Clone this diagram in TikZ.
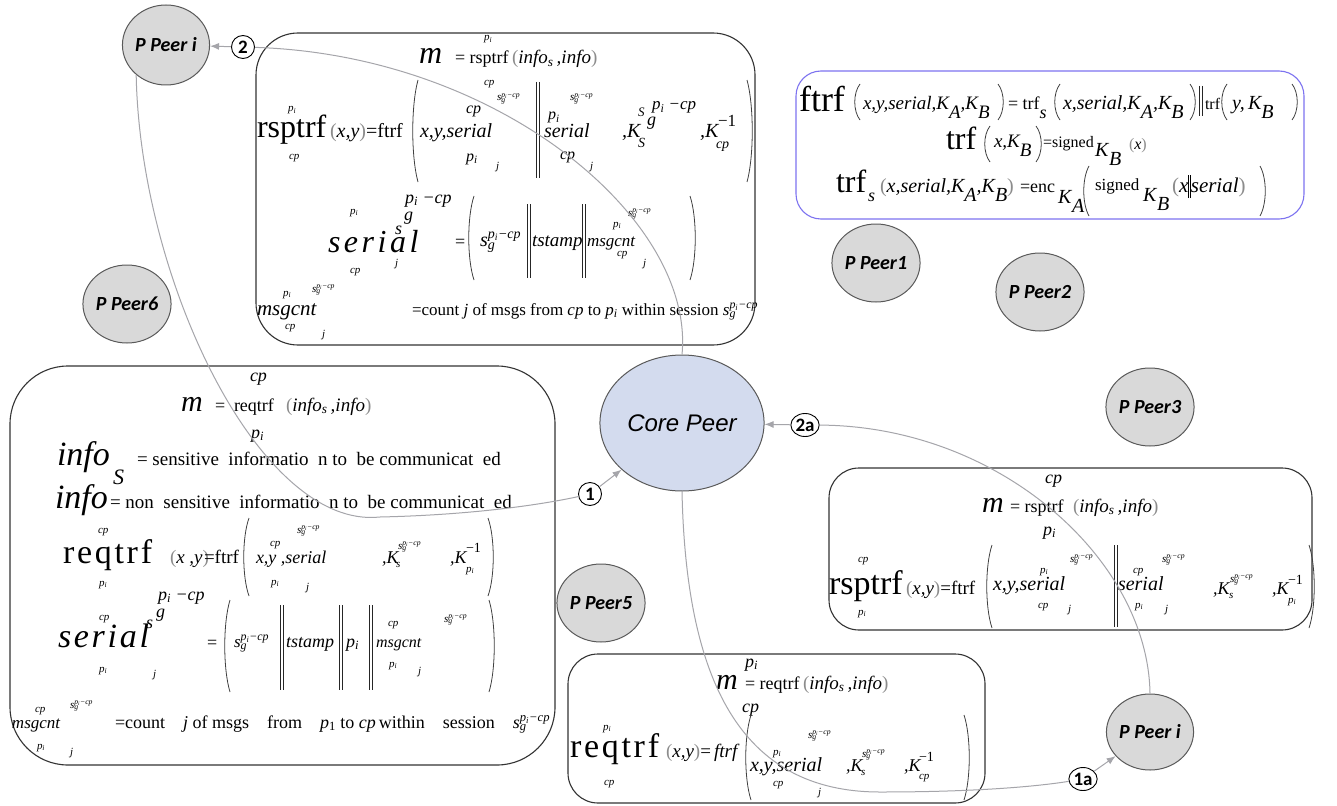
\documentclass[tikz,border=0pt]{standalone}
\usepackage{fontspec}
\usetikzlibrary{shapes.geometric,arrows.meta}
\setmainfont{Liberation Serif}
\newfontfamily\peerfont{Carlito}
\newfontfamily\arialfont{Liberation Sans}
\newcounter{fr}
\newcommand\T[4][]{\stepcounter{fr}\node[tx,font=\fontsize{#3}{#3}\selectfont,#1] (fr\arabic{fr}) at (#2) {#4};}
\newcommand\PI{\textit{p}\textsubscript{\textit{i}}}
\newcommand\sbsp[3]{#1\rlap{\textsubscript{#2}}\textsuperscript{#3}}
\newcommand\SG{\sbsp{\textit{s}}{\textit{g}}{\PI\textit{−cp}}}
\newcommand\lo[1]{\raisebox{-0.45em}{#1}}
\newcommand\LP{\textcolor{black!45}{(}}
\newcommand\RP{\textcolor{black!45}{)}}
\newcommand\dbar{\rule[-0.25em]{0.6pt}{1.1em}\kern1.3pt\rule[-0.25em]{0.6pt}{1.1em}}
\newcommand\lpar[3]{\draw[paren] ({#1+4},#2) .. controls ({#1-3},{#2+0.25*(#3-#2)}) and ({#1-3},{#2+0.75*(#3-#2)}) .. ({#1+4},#3);}
\newcommand\rpar[3]{\draw[paren] ({#1-4},#2) .. controls ({#1+3},{#2+0.25*(#3-#2)}) and ({#1+3},{#2+0.75*(#3-#2)}) .. ({#1-4},#3);}
\newcommand\bars[3]{\draw[bar] (#1,#2) -- (#1,#3); \draw[bar] ({#1+3},#2) -- ({#1+3},#3);}
\definecolor{peerfill}{RGB}{217,217,217}
\definecolor{corefill}{RGB}{211,219,238}
\definecolor{connc}{RGB}{165,165,170}
\definecolor{bluebox}{RGB}{125,115,240}
\begin{document}
\begin{tikzpicture}[x=1pt,y=-1pt,
  tx/.style={anchor=base west,inner sep=0pt,outer sep=0pt},
  paren/.style={line width=0.8pt,black!75},
  bar/.style={line width=0.8pt,black!85},
  box/.style={draw=black!80,line width=1.1pt},
  peer/.style={ellipse,draw=black!65,fill=peerfill,line width=1pt,inner sep=0pt,
    minimum width=86pt,minimum height=78pt,font=\peerfont\bfseries\itshape\fontsize{20}{20}\selectfont},
  lab/.style={circle,draw=black,fill=white,line width=0.9pt,inner sep=0.5pt,minimum size=23pt,
    font=\peerfont\bfseries\fontsize{19}{19}\selectfont},
  laba/.style={lab,ellipse,minimum width=28pt,minimum height=23pt},
  conn/.style={draw=connc,line width=1pt},
  arr/.style={conn,-{Latex[length=9pt,width=7pt]},connc}]
\fill[white] (0,0) rectangle (1337,805);
\useasboundingbox (0,0) rectangle (1337,805);
% boxes
\draw[box,rounded corners=42pt] (256,33) rectangle (755,345);
\draw[draw=bluebox,line width=1.1pt,rounded corners=25pt] (796,71) rectangle (1304,219);
\draw[box,rounded corners=58pt] (10,366) rectangle (555,765);
\draw[box,rounded corners=30pt] (829,468) rectangle (1312,630);
\draw[box,rounded corners=30pt] (568,654) rectangle (985,803);
% ---------- top box
\T{484,41}{11}{\PI}
\T{419,64}{32}{\textit{m}}
\T{455,64}{18}{= rsptrf}
\T{512,64}{19}{\LP\textit{info}\textsubscript{\textit{s}}\,\textit{,info}\RP}
\T{484,86}{11}{\textit{cp}}
\T{288,112}{11}{\PI}
\T{257,138}{32}{rsptrf}
\T{289,160}{11}{\textit{cp}}
\T{330,138}{20}{\LP\textit{x,y}\RP=ftrf}
\lpar{414}{80}{182}
\T{466,114}{16}{\textit{cp}}
\T{497,101}{11}{\SG}
\T{420,138}{20}{\textit{x,y,serial}}
\T{466,161}{16}{\PI}
\T{496,170}{11}{\textit{j}}
\bars{536}{82}{178}
\T{548,120}{16}{\PI}
\T{570,101}{11}{\SG}
\T{544,138}{20}{\textit{serial}}
\T{560,160}{16}{\textit{cp}}
\T{590,170}{11}{\textit{j}}
\T{622,138}{20}{\textit{,K}}
\T{638,148}{14}{\textit{S}}
\T{638,117}{13}{\textit{S}}
\T{647,126}{18}{\textit{g}}
\T{652,110}{17}{\PI\textit{ −cp}}
\T{700,138}{20}{\textit{,K}}
\T{718,127}{17}{−1}
\T{716,149}{14}{\textit{cp}}
\rpar{751}{80}{182}
\T{350,214}{11}{\PI}
\T{328,252}{32}{\itshape\addfontfeatures{LetterSpace=11}serial}
\T{395,234}{18}{\textit{s}}
\T{404,220}{18}{\textit{g}}
\T{405,203}{18}{\PI\textit{ −cp}}
\T{350,273}{11}{\textit{cp}}
\T{395,266}{11}{\textit{j}}
\T{455,247}{18}{=}
\lpar{470}{196}{280}
\T{480,246}{20}{\SG}
\bars{527}{204}{278}
\T{532,246}{19}{\textit{tstamp}}
\bars{582}{204}{278}
\T{613,227}{11}{\PI}
\T{587,246}{17}{\textit{msgcnt}}
\T{628,216}{11}{\SG}
\T{617,256}{11}{\textit{cp}}
\T{643,266}{11}{\textit{j}}
\rpar{694}{196}{280}
\T{283,296}{11}{\PI}
\T{312,292}{11}{\SG}
\T{257,315}{21}{\textit{msgcnt}}
\T{285,329}{11}{\textit{cp}}
\T{322,337}{11}{\textit{j}}
\T{412,315}{17}{=count \textit{j} of msgs from \textit{cp} to \PI\ within session \SG}
% ---------- right top box
\T{799,112}{36}{ftrf}
\lpar{856}{84}{120}
\T{863,110}{19}{\textit{x,y,serial,K\lo{A},K\lo{B}}}
\rpar{1002}{84}{120}
\T{1008,110}{18}{= trf\lo{\textit{s}}}
\lpar{1056}{84}{120}
\T{1063,110}{20}{\textit{x,serial,K\lo{A},K\lo{B}}}
\rpar{1194}{84}{120}
\bars{1199}{86}{116}
\T{1205,110}{16}{trf}
\lpar{1223}{84}{120}
\T{1232,110}{20}{\textit{y,\,K\lo{B}}}
\rpar{1296}{84}{120}
\T{946,150}{32}{trf}
\lpar{986}{126}{162}
\T{994,148}{19}{\textit{x,K\lo{B}}}
\rpar{1040}{126}{162}
\T{1043,148}{16}{=signed}
\T{1095,157}{20}{\textit{K}\lo{\textit{B}}}
\T{1129,150}{16}{\LP\textit{x}\RP}
\T{836,193}{32}{trf}
\T{868,201}{18}{\textit{s}}
\T{880,193}{20}{\LP\textit{x,serial,K\lo{A},K\lo{B}}\RP}
\T{1020,193}{18}{=enc}
\T{1058,204}{20}{\textit{K}\lo{\textit{A}}}
\lpar{1085}{166}{216}
\T{1095,190}{17}{signed}
\T{1143,201}{20}{\textit{K}\lo{\textit{B}}}
\T{1172,193}{21}{\LP\textit{x}\dbar\textit{serial}\RP}
\rpar{1264}{166}{216}
% ---------- left box
\T{250,381}{18}{\textit{cp}}
\T{181,411}{30}{\textit{m}}
\T{215,411}{18}{=}
\T{234,411}{18}{reqtrf}
\T{286,411}{19}{\LP\textit{info}\textsubscript{\textit{s}}\,\textit{,info}\RP}
\T{251,438}{18}{\PI}
\T{57,465}{34}{\textit{info}}
\T{113,484}{22}{\textit{S}}
\T{137,465}{19}{= sensitive\enspace informatio\enspace n to\enspace be communicat\enspace ed}
\T{55,508}{34}{\textit{info}}
\T{110,508}{19}{= non\enspace sensitive\enspace informatio\enspace n to\enspace be communicat\enspace ed}
\T{98,533}{11}{\textit{cp}}
\T{63,563}{34}{\addfontfeatures{LetterSpace=8}reqtrf}
\T{99,586}{11}{\PI}
\T{170,563}{19}{\LP\textit{x ,y}\RP}
\T{204,563}{19}{=ftrf}
\lpar{245}{518}{596}
\T{270,546}{11}{\textit{cp}}
\T{297,533}{11}{\SG}
\T{256,563}{18}{\textit{x,y ,serial}}
\T{271,585}{11}{\PI}
\T{306,590}{11}{\textit{j}}
\T{382,563}{18}{\textit{,K}}
\T{396,567}{11}{\textit{s}}
\T{398,549}{11}{\SG}
\T{450,563}{18}{\textit{,K}}
\T{466,552}{14}{−1}
\T{466,572}{11}{\PI}
\rpar{492}{518}{596}
\T{99,620}{11}{\textit{cp}}
\T{58,647}{34}{\itshape\addfontfeatures{LetterSpace=8}serial}
\T{146,628}{18}{\textit{s}}
\T{156,617}{18}{\textit{g}}
\T{158,600}{18}{\PI\textit{ −cp}}
\T{99,672}{11}{\PI}
\T{153,677}{11}{\textit{j}}
\T{207,648}{18}{=}
\lpar{226}{600}{692}
\T{234,647}{17}{\SG}
\bars{280}{605}{690}
\T{286,647}{18}{\textit{tstamp}}
\bars{339}{605}{690}
\T{346,647}{18}{\PI}
\bars{369}{605}{690}
\T{388,626}{11}{\textit{cp}}
\T{376,647}{16}{\textit{msgcnt}}
\T{444,622}{11}{\SG}
\T{389,667}{11}{\PI}
\T{418,674}{11}{\textit{j}}
\rpar{493}{600}{692}
\T{35,712}{11}{\textit{cp}}
\T{70,708}{11}{\SG}
\T{12,728}{17}{\textit{msgcnt}}
\T{37,749}{11}{\PI}
\T{70,755}{11}{\textit{j}}
\T{115,728}{18}{=count\quad\textit{j} of msgs\quad from\quad \textit{p}\textsubscript{1} to \textit{cp}\,within\quad session\quad \SG}
% ---------- right box
\T{1045,483}{18}{\textit{cp}}
\T{982,512}{30}{\textit{m}}
\T{1010,512}{18}{= rsptrf}
\T{1073,512}{19}{\LP\textit{info}\textsubscript{\textit{s}}\,\textit{,info}\RP}
\T{1043,535}{18}{\PI}
\T{858,562}{11}{\textit{cp}}
\T{829,594}{34}{rsptrf}
\T{858,615}{11}{\PI}
\T{906,594}{19}{\LP\textit{x,y}\RP=ftrf}
\lpar{988}{545}{628}
\T{1040,573}{11}{\PI}
\T{1070,562}{11}{\SG}
\T{993,590}{20}{\textit{x,y,serial}}
\T{1038,608}{11}{\textit{cp}}
\T{1068,612}{11}{\textit{j}}
\bars{1114}{545}{627}
\T{1133,573}{11}{\textit{cp}}
\T{1162,562}{11}{\SG}
\T{1118,590}{20}{\textit{serial}}
\T{1135,608}{11}{\PI}
\T{1165,612}{11}{\textit{j}}
\T{1213,594}{18}{\textit{,K}}
\T{1229,598}{11}{\textit{s}}
\T{1230,582}{11}{\SG}
\T{1272,594}{18}{\textit{,K}}
\T{1288,584}{14}{−1}
\T{1288,603}{11}{\PI}
\rpar{1313}{545}{628}
% ---------- bottom box
\T{745,667}{18}{\PI}
\T{716,689}{30}{\textit{m}}
\T{745,689}{18}{= reqtrf}
\T{803,689}{19}{\LP\textit{info}\textsubscript{\textit{s}}\,\textit{,info}\RP}
\T{742,712}{18}{\textit{cp}}
\T{603,730}{11}{\PI}
\T{570,757}{34}{\addfontfeatures{LetterSpace=8}reqtrf}
\T{604,785}{11}{\textit{cp}}
\T{666,757}{19}{\LP\textit{x,y}\RP=\,\textit{ftrf}}
\lpar{747}{715}{800}
\T{808,738}{11}{\SG}
\T{773,755}{11}{\PI}
\T{750,771}{20}{\textit{x,y,serial}}
\T{773,786}{11}{\textit{cp}}
\T{818,795}{11}{\textit{j}}
\T{846,771}{18}{\textit{,K}}
\T{861,775}{11}{\textit{s}}
\T{862,757}{11}{\SG}
\T{904,771}{18}{\textit{,K}}
\T{919,761}{14}{−1}
\T{919,779}{11}{\textit{cp}}
\rpar{968}{715}{800}
% ---------- peers
\node[peer,minimum width=84pt,minimum height=80pt] (pt) at (166,45) {P Peer i};
\node[peer,minimum width=82pt,minimum height=78pt] (p6) at (127,304) {P Peer6};
\node[peer] (p1) at (876,263) {P Peer1};
\node[peer] (p2) at (1040,292) {P Peer2};
\node[peer] (p3) at (1150,407) {P Peer3};
\node[peer] (p5) at (601,603) {P Peer5};
\node[peer,minimum width=85pt,minimum height=76pt] (pb) at (1150,732) {P Peer i};
\node[ellipse,draw=black!65,fill=corefill,line width=1pt,minimum width=150pt,minimum height=136pt,
  font=\arialfont\itshape\fontsize{24}{24}\selectfont] (core) at (682,423) {Core Peer};
% ---------- labels
\node[lab] (l1) at (590,494) {1};
\node[lab] (l2) at (243,47) {2};
\node[laba] (l2a) at (805,425) {2a};
\node[laba] (l1a) at (1083,779) {1a};
% ---------- connectors
\draw[conn] (pt.225) .. controls (140,280) and (260,530) .. (380,517) .. controls (470,515) and (540,505) .. (l1);
\draw[arr] (l1) -- (core);
\draw[conn] (core.north) .. controls (695,220) and (500,55) .. (l2);
\draw[arr] (l2) -- (pt);
\draw[conn] (pb.north) .. controls (1148,560) and (1000,426) .. (l2a);
\draw[arr] (l2a) -- (core);
\draw[conn] (core.south) .. controls (686,680) and (740,792) .. (880,792) .. controls (980,792) and (1040,786) .. (l1a);
\draw[arr] (l1a) -- (pb);
\end{tikzpicture}
\end{document}
